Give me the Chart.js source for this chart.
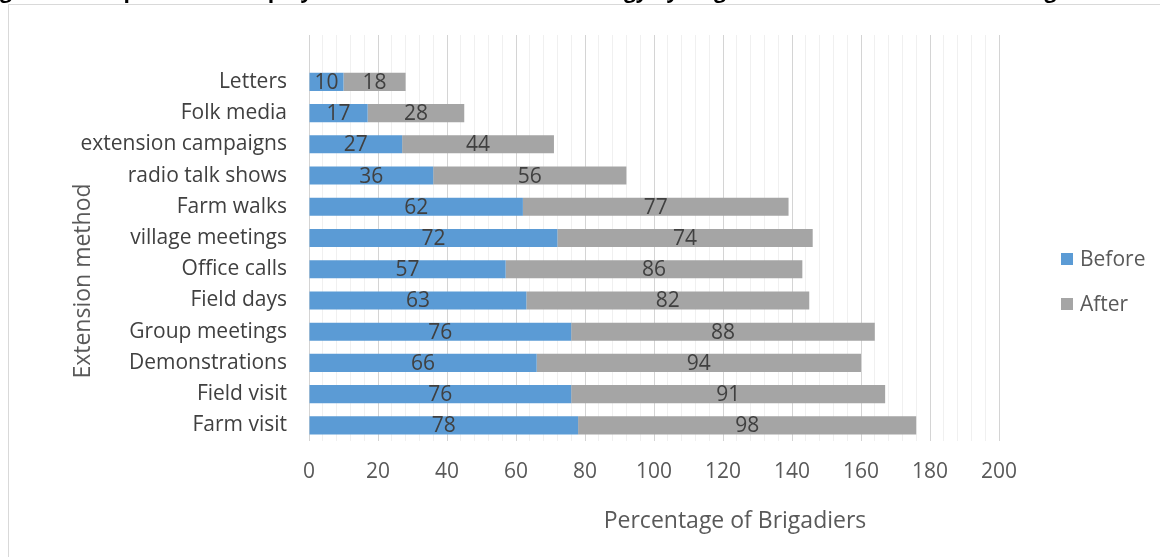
<!DOCTYPE html>
<html>
<head>
<meta charset="utf-8">
<script src="https://cdn.jsdelivr.net/npm/chart.js@4/dist/chart.umd.min.js"></script>
<style>
  html, body { margin: 0; padding: 0; background: #fff; }
  #wrap { width: 1160px; height: 557px; position: relative; }
</style>
</head>
<body>
<div id="wrap"><canvas id="c" width="1160" height="557"></canvas></div>
<script>
// Extension methods, top to bottom (first slot left empty above the bars)
const categories = ['', 'Letters', 'Folk media', 'extension campaigns', 'radio talk shows',
  'Farm walks', 'village meetings', 'Office calls', 'Field days', 'Group meetings',
  'Demonstrations', 'Field visit', 'Farm visit'];
const beforeValues = [null, 10, 17, 27, 36, 62, 72, 57, 63, 76, 66, 76, 78];
const afterValues = [null, 18, 28, 44, 56, 77, 74, 86, 82, 88, 94, 91, 98];
const seriesNames = ['Before', 'After'];
const xTickMin = 0, xTickMax = 200, xMajorStep = 20, xMinorStep = 4;
const chartTitle = 'Figure 4: Comparison of employment of extension methodology by Brigadiers before and after training';
const yAxisTitle = 'Extension method';
const xAxisTitle = 'Percentage of Brigadiers';

const FONT = "'Open Sans', 'DejaVu Sans', sans-serif";
const BLUE = '#5B9BD5';
const GREY = '#A5A5A5';

// Segment value labels, centred in each bar piece
const barLabels = {
  id: 'barLabels',
  afterDatasetsDraw(chart) {
    const ctx = chart.ctx;
    ctx.save();
    ctx.font = '21px ' + FONT;
    ctx.fillStyle = '#404040';
    ctx.textAlign = 'center';
    ctx.textBaseline = 'middle';
    chart.data.datasets.forEach((ds, i) => {
      const meta = chart.getDatasetMeta(i);
      meta.data.forEach((el, j) => {
        const v = ds.data[j];
        if (v === null || v === undefined) return;
        const p = el.getProps(['x', 'y', 'base'], true);
        ctx.fillText(String(v), (p.x + p.base) / 2, p.y + 1);
      });
    });
    ctx.restore();
  }
};

// Frame, clipped caption, axis titles and legend
const decorations = {
  id: 'decorations',
  beforeDraw(chart) {
    const ctx = chart.ctx;
    ctx.save();
    ctx.fillStyle = '#fff';
    ctx.fillRect(0, 0, chart.width, chart.height);
    ctx.strokeStyle = '#D9D9D9';
    ctx.lineWidth = 1;
    ctx.strokeRect(8.5, 4.5, 1200, 600);
    ctx.restore();
  },
  afterDraw(chart) {
    const ctx = chart.ctx;
    ctx.save();
    ctx.fillStyle = '#000';
    ctx.font = 'bold 21px ' + FONT;
    ctx.textAlign = 'left';
    ctx.textBaseline = 'alphabetic';
    ctx.fillText(chartTitle, -18, -2.5);

    ctx.fillStyle = '#595959';
    ctx.font = '23px ' + FONT;
    ctx.textAlign = 'center';
    ctx.textBaseline = 'middle';
    ctx.fillText(xAxisTitle, 735, 521);
    ctx.save();
    ctx.translate(83, 281);
    ctx.rotate(-Math.PI / 2);
    ctx.fillText(yAxisTitle, 0, 0);
    ctx.restore();

    const colors = [BLUE, GREY];
    const ys = [259, 304];
    ctx.font = '21px ' + FONT;
    ctx.textAlign = 'left';
    seriesNames.forEach((name, i) => {
      ctx.fillStyle = colors[i];
      ctx.fillRect(1061, ys[i] - 6, 12, 12);
      ctx.fillStyle = '#595959';
      ctx.fillText(name, 1080, ys[i] + 1);
    });
    ctx.restore();
  }
};

new Chart(document.getElementById('c'), {
  type: 'bar',
  data: {
    labels: categories,
    datasets: [
      { label: seriesNames[0], data: beforeValues, backgroundColor: BLUE },
      { label: seriesNames[1], data: afterValues, backgroundColor: GREY }
    ]
  },
  options: {
    indexAxis: 'y',
    responsive: false,
    animation: false,
    devicePixelRatio: 1,
    barPercentage: 0.58,
    categoryPercentage: 1.0,
    layout: { padding: { top: 35, right: 161, left: 0, bottom: 0 } },
    plugins: {
      legend: { display: false },
      tooltip: { enabled: false },
      title: { display: false }
    },
    scales: {
      x: {
        stacked: true,
        min: xTickMin,
        max: xTickMax,
        afterFit(scale) { scale.height = 116; },
        afterBuildTicks(scale) {
          const t = [];
          for (let v = xTickMin; v <= xTickMax; v += xMinorStep) t.push({ value: v });
          scale.ticks = t;
        },
        ticks: {
          autoSkip: false,
          maxRotation: 0,
          padding: 18,
          color: '#595959',
          font: { family: FONT, size: 21 },
          callback: (v) => (v % xMajorStep === 0 ? String(v) : '')
        },
        grid: {
          drawTicks: false,
          lineWidth: 1,
          color: (c) => (c.tick && c.tick.value % xMajorStep === 0 ? '#D4D4D4' : '#F0F0F0')
        },
        border: { display: false }
      },
      y: {
        stacked: true,
        afterFit(scale) { scale.width = 309; },
        ticks: {
          padding: 22,
          color: '#404040',
          font: { family: FONT, size: 21 }
        },
        grid: { display: false, drawTicks: false },
        border: { display: false }
      }
    }
  },
  plugins: [decorations, barLabels]
});
</script>
</body>
</html>
